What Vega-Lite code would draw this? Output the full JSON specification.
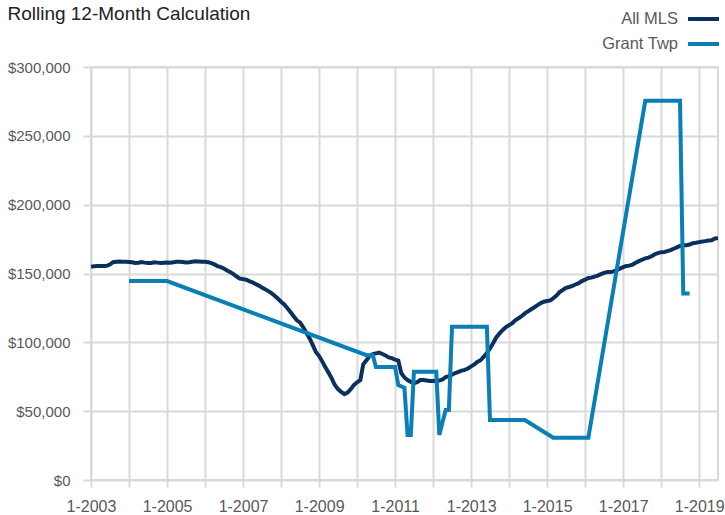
{
  "$schema": "https://vega.github.io/schema/vega-lite/v6.json",
  "width": 627,
  "height": 413,
  "autosize": "none",
  "padding": {"left": 91, "top": 67, "right": 7, "bottom": 35},
  "background": "white",
  "title": {
    "text": "Rolling 12-Month Calculation",
    "anchor": "start",
    "frame": "bounds",
    "font": "Liberation Sans",
    "fontSize": 19,
    "fontWeight": "normal",
    "color": "#222222",
    "baseline": "top",
    "offset": 0,
    "dy": 21
  },
  "config": {
    "view": {"stroke": "#d9d9d9", "strokeWidth": 2},
    "font": "Liberation Sans"
  },
  "data": {
    "values": [
      {"d":"2003-01-01","s":"All MLS","v":155000},{"d":"2003-02-01","s":"All MLS","v":155300},{"d":"2003-03-01","s":"All MLS","v":155500},{"d":"2003-04-01","s":"All MLS","v":155400},{"d":"2003-05-01","s":"All MLS","v":155500},{"d":"2003-06-01","s":"All MLS","v":155600},{"d":"2003-07-01","s":"All MLS","v":156500},{"d":"2003-08-01","s":"All MLS","v":158200},{"d":"2003-09-01","s":"All MLS","v":158600},{"d":"2003-10-01","s":"All MLS","v":158700},{"d":"2003-11-01","s":"All MLS","v":158500},{"d":"2003-12-01","s":"All MLS","v":158600},
      {"d":"2004-01-01","s":"All MLS","v":158400},{"d":"2004-02-01","s":"All MLS","v":158200},{"d":"2004-03-01","s":"All MLS","v":157600},{"d":"2004-04-01","s":"All MLS","v":157800},{"d":"2004-05-01","s":"All MLS","v":158300},{"d":"2004-06-01","s":"All MLS","v":157900},{"d":"2004-07-01","s":"All MLS","v":157600},{"d":"2004-08-01","s":"All MLS","v":157700},{"d":"2004-09-01","s":"All MLS","v":158100},{"d":"2004-10-01","s":"All MLS","v":157900},{"d":"2004-11-01","s":"All MLS","v":157600},{"d":"2004-12-01","s":"All MLS","v":157800},
      {"d":"2005-01-01","s":"All MLS","v":158000},{"d":"2005-02-01","s":"All MLS","v":157900},{"d":"2005-03-01","s":"All MLS","v":158200},{"d":"2005-04-01","s":"All MLS","v":158600},{"d":"2005-05-01","s":"All MLS","v":158500},{"d":"2005-06-01","s":"All MLS","v":158300},{"d":"2005-07-01","s":"All MLS","v":158000},{"d":"2005-08-01","s":"All MLS","v":158200},{"d":"2005-09-01","s":"All MLS","v":158600},{"d":"2005-10-01","s":"All MLS","v":158900},{"d":"2005-11-01","s":"All MLS","v":158700},{"d":"2005-12-01","s":"All MLS","v":158500},
      {"d":"2006-01-01","s":"All MLS","v":158600},{"d":"2006-02-01","s":"All MLS","v":158200},{"d":"2006-03-01","s":"All MLS","v":157500},{"d":"2006-04-01","s":"All MLS","v":156600},{"d":"2006-05-01","s":"All MLS","v":155400},{"d":"2006-06-01","s":"All MLS","v":154600},{"d":"2006-07-01","s":"All MLS","v":153600},{"d":"2006-08-01","s":"All MLS","v":152200},{"d":"2006-09-01","s":"All MLS","v":151000},{"d":"2006-10-01","s":"All MLS","v":149500},{"d":"2006-11-01","s":"All MLS","v":147800},{"d":"2006-12-01","s":"All MLS","v":146300},
      {"d":"2007-01-01","s":"All MLS","v":145900},{"d":"2007-02-01","s":"All MLS","v":145500},{"d":"2007-03-01","s":"All MLS","v":144500},{"d":"2007-04-01","s":"All MLS","v":143600},{"d":"2007-05-01","s":"All MLS","v":142400},{"d":"2007-06-01","s":"All MLS","v":141200},{"d":"2007-07-01","s":"All MLS","v":139800},{"d":"2007-08-01","s":"All MLS","v":138500},{"d":"2007-09-01","s":"All MLS","v":137200},{"d":"2007-10-01","s":"All MLS","v":135700},{"d":"2007-11-01","s":"All MLS","v":133900},{"d":"2007-12-01","s":"All MLS","v":131800},
      {"d":"2008-01-01","s":"All MLS","v":129500},{"d":"2008-02-01","s":"All MLS","v":127500},{"d":"2008-03-01","s":"All MLS","v":125000},{"d":"2008-04-01","s":"All MLS","v":122000},{"d":"2008-05-01","s":"All MLS","v":119000},{"d":"2008-06-01","s":"All MLS","v":116000},{"d":"2008-07-01","s":"All MLS","v":114500},{"d":"2008-08-01","s":"All MLS","v":111000},{"d":"2008-09-01","s":"All MLS","v":107000},{"d":"2008-10-01","s":"All MLS","v":103000},{"d":"2008-11-01","s":"All MLS","v":98000},{"d":"2008-12-01","s":"All MLS","v":93000},
      {"d":"2009-01-01","s":"All MLS","v":90000},{"d":"2009-02-01","s":"All MLS","v":86000},{"d":"2009-03-01","s":"All MLS","v":82000},{"d":"2009-04-01","s":"All MLS","v":78000},{"d":"2009-05-01","s":"All MLS","v":74000},{"d":"2009-06-01","s":"All MLS","v":69000},{"d":"2009-07-01","s":"All MLS","v":66000},{"d":"2009-08-01","s":"All MLS","v":64000},{"d":"2009-09-01","s":"All MLS","v":62400},{"d":"2009-10-01","s":"All MLS","v":63500},{"d":"2009-11-01","s":"All MLS","v":66000},{"d":"2009-12-01","s":"All MLS","v":69000},
      {"d":"2010-01-01","s":"All MLS","v":71000},{"d":"2010-02-01","s":"All MLS","v":72600},{"d":"2010-03-01","s":"All MLS","v":84000},{"d":"2010-04-01","s":"All MLS","v":87000},{"d":"2010-05-01","s":"All MLS","v":90000},{"d":"2010-06-01","s":"All MLS","v":91500},{"d":"2010-07-01","s":"All MLS","v":92000},{"d":"2010-08-01","s":"All MLS","v":92500},{"d":"2010-09-01","s":"All MLS","v":91500},{"d":"2010-10-01","s":"All MLS","v":90500},{"d":"2010-11-01","s":"All MLS","v":89000},{"d":"2010-12-01","s":"All MLS","v":88500},
      {"d":"2011-01-01","s":"All MLS","v":87500},{"d":"2011-02-01","s":"All MLS","v":86800},{"d":"2011-03-01","s":"All MLS","v":77700},{"d":"2011-04-01","s":"All MLS","v":74500},{"d":"2011-05-01","s":"All MLS","v":72600},{"d":"2011-06-01","s":"All MLS","v":71200},{"d":"2011-07-01","s":"All MLS","v":70400},{"d":"2011-08-01","s":"All MLS","v":71000},{"d":"2011-09-01","s":"All MLS","v":72600},{"d":"2011-10-01","s":"All MLS","v":72600},{"d":"2011-11-01","s":"All MLS","v":72300},{"d":"2011-12-01","s":"All MLS","v":72000},
      {"d":"2012-01-01","s":"All MLS","v":72000},{"d":"2012-02-01","s":"All MLS","v":71900},{"d":"2012-03-01","s":"All MLS","v":72200},{"d":"2012-04-01","s":"All MLS","v":73000},{"d":"2012-05-01","s":"All MLS","v":74800},{"d":"2012-06-01","s":"All MLS","v":75500},{"d":"2012-07-01","s":"All MLS","v":76500},{"d":"2012-08-01","s":"All MLS","v":77700},{"d":"2012-09-01","s":"All MLS","v":78500},{"d":"2012-10-01","s":"All MLS","v":79500},{"d":"2012-11-01","s":"All MLS","v":80000},{"d":"2012-12-01","s":"All MLS","v":81000},
      {"d":"2013-01-01","s":"All MLS","v":82500},{"d":"2013-02-01","s":"All MLS","v":84000},{"d":"2013-03-01","s":"All MLS","v":85700},{"d":"2013-04-01","s":"All MLS","v":87000},{"d":"2013-05-01","s":"All MLS","v":89500},{"d":"2013-06-01","s":"All MLS","v":92200},{"d":"2013-07-01","s":"All MLS","v":95500},{"d":"2013-08-01","s":"All MLS","v":99500},{"d":"2013-09-01","s":"All MLS","v":103800},{"d":"2013-10-01","s":"All MLS","v":106500},{"d":"2013-11-01","s":"All MLS","v":109000},{"d":"2013-12-01","s":"All MLS","v":111000},
      {"d":"2014-01-01","s":"All MLS","v":112500},{"d":"2014-02-01","s":"All MLS","v":114000},{"d":"2014-03-01","s":"All MLS","v":116000},{"d":"2014-04-01","s":"All MLS","v":117500},{"d":"2014-05-01","s":"All MLS","v":119000},{"d":"2014-06-01","s":"All MLS","v":121000},{"d":"2014-07-01","s":"All MLS","v":122500},{"d":"2014-08-01","s":"All MLS","v":124000},{"d":"2014-09-01","s":"All MLS","v":125500},{"d":"2014-10-01","s":"All MLS","v":127000},{"d":"2014-11-01","s":"All MLS","v":128500},{"d":"2014-12-01","s":"All MLS","v":129500},
      {"d":"2015-01-01","s":"All MLS","v":130000},{"d":"2015-02-01","s":"All MLS","v":130500},{"d":"2015-03-01","s":"All MLS","v":132000},{"d":"2015-04-01","s":"All MLS","v":134000},{"d":"2015-05-01","s":"All MLS","v":136500},{"d":"2015-06-01","s":"All MLS","v":138000},{"d":"2015-07-01","s":"All MLS","v":139500},{"d":"2015-08-01","s":"All MLS","v":140200},{"d":"2015-09-01","s":"All MLS","v":141000},{"d":"2015-10-01","s":"All MLS","v":142000},{"d":"2015-11-01","s":"All MLS","v":143000},{"d":"2015-12-01","s":"All MLS","v":144500},
      {"d":"2016-01-01","s":"All MLS","v":145500},{"d":"2016-02-01","s":"All MLS","v":146700},{"d":"2016-03-01","s":"All MLS","v":147000},{"d":"2016-04-01","s":"All MLS","v":147800},{"d":"2016-05-01","s":"All MLS","v":148500},{"d":"2016-06-01","s":"All MLS","v":149500},{"d":"2016-07-01","s":"All MLS","v":150500},{"d":"2016-08-01","s":"All MLS","v":151000},{"d":"2016-09-01","s":"All MLS","v":151000},{"d":"2016-10-01","s":"All MLS","v":151500},{"d":"2016-11-01","s":"All MLS","v":152500},{"d":"2016-12-01","s":"All MLS","v":153500},
      {"d":"2017-01-01","s":"All MLS","v":154600},{"d":"2017-02-01","s":"All MLS","v":155500},{"d":"2017-03-01","s":"All MLS","v":155700},{"d":"2017-04-01","s":"All MLS","v":156500},{"d":"2017-05-01","s":"All MLS","v":157800},{"d":"2017-06-01","s":"All MLS","v":159000},{"d":"2017-07-01","s":"All MLS","v":160000},{"d":"2017-08-01","s":"All MLS","v":161000},{"d":"2017-09-01","s":"All MLS","v":161500},{"d":"2017-10-01","s":"All MLS","v":162500},{"d":"2017-11-01","s":"All MLS","v":164000},{"d":"2017-12-01","s":"All MLS","v":164800},
      {"d":"2018-01-01","s":"All MLS","v":165500},{"d":"2018-02-01","s":"All MLS","v":165600},{"d":"2018-03-01","s":"All MLS","v":166200},{"d":"2018-04-01","s":"All MLS","v":167000},{"d":"2018-05-01","s":"All MLS","v":168000},{"d":"2018-06-01","s":"All MLS","v":169000},{"d":"2018-07-01","s":"All MLS","v":170000},{"d":"2018-08-01","s":"All MLS","v":170600},{"d":"2018-09-01","s":"All MLS","v":170600},{"d":"2018-10-01","s":"All MLS","v":171000},{"d":"2018-11-01","s":"All MLS","v":172000},{"d":"2018-12-01","s":"All MLS","v":172300},
      {"d":"2019-01-01","s":"All MLS","v":172800},{"d":"2019-02-01","s":"All MLS","v":173200},{"d":"2019-03-01","s":"All MLS","v":173500},{"d":"2019-04-01","s":"All MLS","v":174000},{"d":"2019-05-01","s":"All MLS","v":174200},{"d":"2019-06-01","s":"All MLS","v":175500},{"d":"2019-07-01","s":"All MLS","v":175700},
      {"d":"2004-01-01","s":"Grant Twp","v":144500},{"d":"2004-02-01","s":"Grant Twp","v":144500},{"d":"2004-03-01","s":"Grant Twp","v":144500},{"d":"2004-04-01","s":"Grant Twp","v":144500},{"d":"2004-05-01","s":"Grant Twp","v":144500},{"d":"2004-06-01","s":"Grant Twp","v":144500},{"d":"2004-07-01","s":"Grant Twp","v":144500},{"d":"2004-08-01","s":"Grant Twp","v":144500},{"d":"2004-09-01","s":"Grant Twp","v":144500},{"d":"2004-10-01","s":"Grant Twp","v":144500},{"d":"2004-11-01","s":"Grant Twp","v":144500},{"d":"2004-12-01","s":"Grant Twp","v":144500},{"d":"2005-01-01","s":"Grant Twp","v":144500},
      {"d":"2010-04-01","s":"Grant Twp","v":90700},{"d":"2010-05-01","s":"Grant Twp","v":90700},{"d":"2010-06-01","s":"Grant Twp","v":90700},
      {"d":"2010-07-01","s":"Grant Twp","v":82000},{"d":"2010-08-01","s":"Grant Twp","v":82000},{"d":"2010-09-01","s":"Grant Twp","v":82000},{"d":"2010-10-01","s":"Grant Twp","v":82000},{"d":"2010-11-01","s":"Grant Twp","v":82000},{"d":"2010-12-01","s":"Grant Twp","v":82000},{"d":"2011-01-01","s":"Grant Twp","v":82000},
      {"d":"2011-02-01","s":"Grant Twp","v":69000},{"d":"2011-03-01","s":"Grant Twp","v":68000},{"d":"2011-04-01","s":"Grant Twp","v":67000},
      {"d":"2011-05-01","s":"Grant Twp","v":32700},{"d":"2011-06-01","s":"Grant Twp","v":32700},
      {"d":"2011-07-01","s":"Grant Twp","v":78600},{"d":"2011-08-01","s":"Grant Twp","v":78600},{"d":"2011-09-01","s":"Grant Twp","v":78600},{"d":"2011-10-01","s":"Grant Twp","v":78600},{"d":"2011-11-01","s":"Grant Twp","v":78600},{"d":"2011-12-01","s":"Grant Twp","v":78600},{"d":"2012-01-01","s":"Grant Twp","v":78600},{"d":"2012-02-01","s":"Grant Twp","v":78600},
      {"d":"2012-03-01","s":"Grant Twp","v":32700},{"d":"2012-05-01","s":"Grant Twp","v":50800},{"d":"2012-06-01","s":"Grant Twp","v":50800},
      {"d":"2012-07-01","s":"Grant Twp","v":111300},{"d":"2012-08-01","s":"Grant Twp","v":111300},{"d":"2012-09-01","s":"Grant Twp","v":111300},{"d":"2012-10-01","s":"Grant Twp","v":111300},{"d":"2012-11-01","s":"Grant Twp","v":111300},{"d":"2012-12-01","s":"Grant Twp","v":111300},{"d":"2013-01-01","s":"Grant Twp","v":111300},{"d":"2013-02-01","s":"Grant Twp","v":111300},{"d":"2013-03-01","s":"Grant Twp","v":111300},{"d":"2013-04-01","s":"Grant Twp","v":111300},{"d":"2013-05-01","s":"Grant Twp","v":111300},{"d":"2013-06-01","s":"Grant Twp","v":111300},
      {"d":"2013-07-01","s":"Grant Twp","v":43600},{"d":"2013-08-01","s":"Grant Twp","v":43600},{"d":"2013-09-01","s":"Grant Twp","v":43600},{"d":"2013-10-01","s":"Grant Twp","v":43600},{"d":"2013-11-01","s":"Grant Twp","v":43600},{"d":"2013-12-01","s":"Grant Twp","v":43600},{"d":"2014-01-01","s":"Grant Twp","v":43600},{"d":"2014-02-01","s":"Grant Twp","v":43600},{"d":"2014-03-01","s":"Grant Twp","v":43600},{"d":"2014-04-01","s":"Grant Twp","v":43600},{"d":"2014-05-01","s":"Grant Twp","v":43600},{"d":"2014-06-01","s":"Grant Twp","v":43600},
      {"d":"2015-03-01","s":"Grant Twp","v":30700},{"d":"2015-04-01","s":"Grant Twp","v":30700},{"d":"2015-05-01","s":"Grant Twp","v":30700},{"d":"2015-06-01","s":"Grant Twp","v":30700},{"d":"2015-07-01","s":"Grant Twp","v":30700},{"d":"2015-08-01","s":"Grant Twp","v":30700},{"d":"2015-09-01","s":"Grant Twp","v":30700},{"d":"2015-10-01","s":"Grant Twp","v":30700},{"d":"2015-11-01","s":"Grant Twp","v":30700},{"d":"2015-12-01","s":"Grant Twp","v":30700},{"d":"2016-01-01","s":"Grant Twp","v":30700},{"d":"2016-02-01","s":"Grant Twp","v":30700},
      {"d":"2017-08-01","s":"Grant Twp","v":275400},{"d":"2017-09-01","s":"Grant Twp","v":275400},{"d":"2017-10-01","s":"Grant Twp","v":275400},{"d":"2017-11-01","s":"Grant Twp","v":275400},{"d":"2017-12-01","s":"Grant Twp","v":275400},{"d":"2018-01-01","s":"Grant Twp","v":275400},{"d":"2018-02-01","s":"Grant Twp","v":275400},{"d":"2018-03-01","s":"Grant Twp","v":275400},{"d":"2018-04-01","s":"Grant Twp","v":275400},{"d":"2018-05-01","s":"Grant Twp","v":275400},{"d":"2018-06-01","s":"Grant Twp","v":275400},{"d":"2018-07-01","s":"Grant Twp","v":275400},
      {"d":"2018-08-01","s":"Grant Twp","v":135500},{"d":"2018-09-01","s":"Grant Twp","v":135500},{"d":"2018-10-01","s":"Grant Twp","v":135500}
    ]
  },
  "mark": {"type": "line", "strokeWidth": 4, "strokeJoin": "miter", "strokeCap": "butt", "clip": false},
  "encoding": {
    "x": {
      "field": "d",
      "type": "temporal",
      "scale": {"domain": ["2003-01-01", "2019-07-01"]},
      "axis": {
        "title": null,
        "tickCount": {"interval": "year", "step": 1},
        "labelExpr": "year(datum.value) % 2 == 1 ? timeFormat(datum.value, '%-m-%Y') : ''",
        "domain": false,
        "grid": true,
        "gridColor": "#d9d9d9",
        "gridWidth": 2,
        "ticks": true,
        "tickColor": "#d9d9d9",
        "tickWidth": 2,
        "tickSize": 7,
        "labelPadding": 11,
        "labelFontSize": 16,
        "labelColor": "#595959",
        "labelFlush": false,
        "labelOverlap": false
      }
    },
    "y": {
      "field": "v",
      "type": "quantitative",
      "scale": {"domain": [0, 300000]},
      "axis": {
        "title": null,
        "values": [0, 50000, 100000, 150000, 200000, 250000, 300000],
        "format": "$,.0f",
        "domain": false,
        "grid": true,
        "gridColor": "#d9d9d9",
        "gridWidth": 2,
        "tickColor": "#d9d9d9",
        "tickWidth": 2,
        "tickSize": 8,
        "labelPadding": 13,
        "labelFontSize": 15,
        "labelColor": "#595959"
      }
    },
    "color": {
      "field": "s",
      "type": "nominal",
      "scale": {"domain": ["All MLS", "Grant Twp"], "range": ["#0b2f5e", "#0a7fb5"]},
      "legend": {
        "title": null,
        "orient": "none",
        "legendX": 596,
        "legendY": -64.5,
        "direction": "vertical",
        "symbolType": "M-1.07,0H1.07",
        "symbolSize": 841,
        "symbolStrokeWidth": 4,
        "symbolFillColor": "transparent",
        "labelAlign": "right",
        "labelOffset": -42,
        "labelFontSize": 16.5,
        "labelColor": "#595959",
        "rowPadding": 0,
        "padding": 0
      }
    }
  }
}
